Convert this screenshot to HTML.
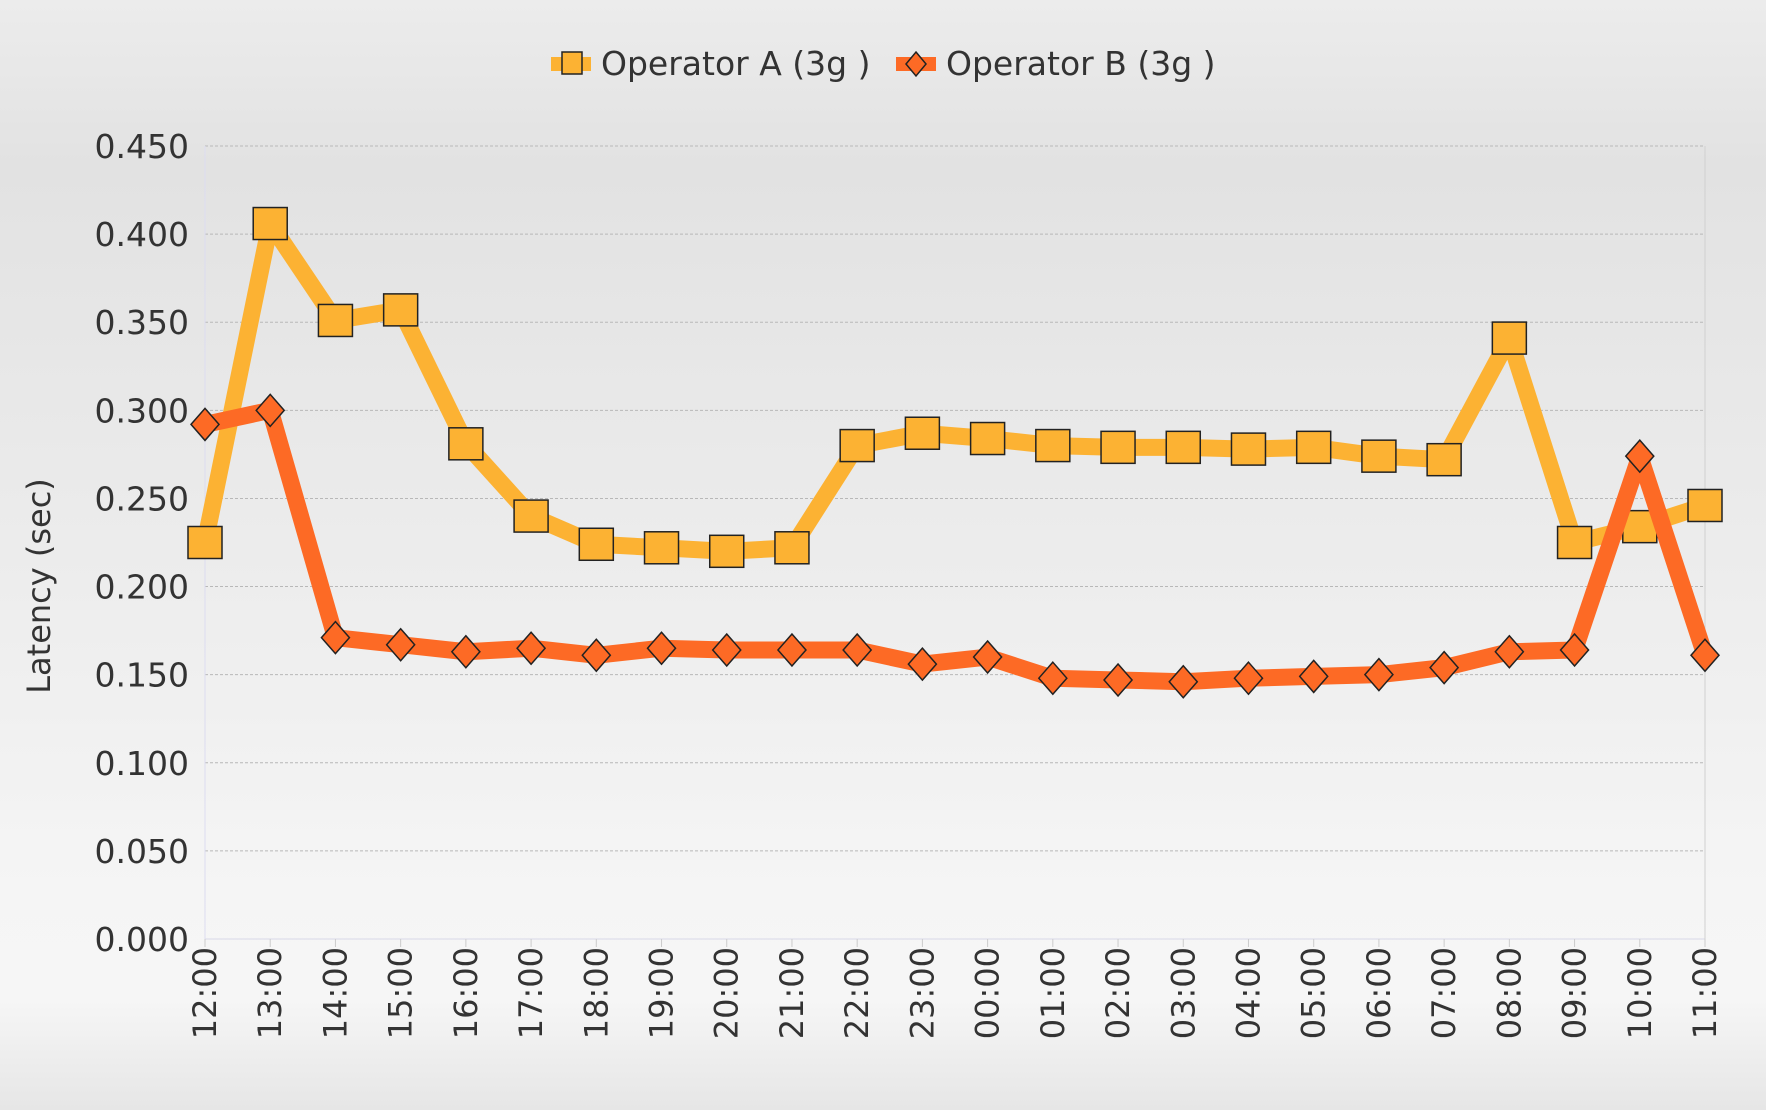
<!DOCTYPE html>
<html><head><meta charset="utf-8"><style>
html,body{margin:0;padding:0;width:1766px;height:1110px;overflow:hidden}
body{background:linear-gradient(#ececec 0%,#e2e2e2 15%,#f5f5f5 80%,#f6f6f6 90%,#e6e6e6 100%);font-family:"DejaVu Sans","Liberation Sans",sans-serif}
</style></head><body>
<svg id="chart" width="1766" height="1110" xmlns="http://www.w3.org/2000/svg" style="position:absolute;left:0;top:0"></svg>
<script>
const categories=["12:00","13:00","14:00","15:00","16:00","17:00","18:00","19:00","20:00","21:00","22:00","23:00","00:00","01:00","02:00","03:00","04:00","05:00","06:00","07:00","08:00","09:00","10:00","11:00"];
const seriesA=[0.225,0.406,0.351,0.357,0.281,0.240,0.224,0.222,0.220,0.222,0.280,0.287,0.284,0.280,0.279,0.279,0.278,0.279,0.274,0.272,0.341,0.225,0.234,0.246];
const seriesB=[0.292,0.300,0.171,0.167,0.163,0.165,0.161,0.165,0.164,0.164,0.164,0.156,0.160,0.148,0.147,0.146,0.148,0.149,0.150,0.154,0.163,0.164,0.274,0.161];
const yTicks=[0,0.05,0.1,0.15,0.2,0.25,0.3,0.35,0.4,0.45];
const X0=205,X1=1705,Y0=939,Y1=146,YMAX=0.45;
const svg=document.getElementById('chart');const NS='http://www.w3.org/2000/svg';
function xs(i){return X0+(X1-X0)*i/(categories.length-1);}
function ys(v){return Y0-(Y0-Y1)*v/YMAX;}
function mk(t,a,p){const e=document.createElementNS(NS,t);for(const k in a)e.setAttribute(k,a[k]);(p||svg).appendChild(e);return e;}
yTicks.forEach(v=>{
 const l=mk('line',{x1:X0,x2:X1,y1:ys(v),y2:ys(v),stroke:v===0?'#d8d8e8':'#b8b8b8','stroke-width':1,'stroke-dasharray':v===0?'':'3,2'});
 
 
 const t=mk('text',{x:189,y:ys(v)+12,'text-anchor':'end','font-size':33,fill:'#333'});t.textContent=v.toFixed(3);
 
 
});
mk('line',{x1:X0,x2:X0,y1:Y1,y2:Y0,stroke:'#dcdcf0','stroke-width':1});
mk('line',{x1:X1,x2:X1,y1:Y1,y2:Y0,stroke:'#d0d0d0','stroke-width':1});
categories.forEach((c,i)=>{
 mk('line',{x1:xs(i),x2:xs(i),y1:Y0,y2:Y0+8,stroke:'#ccc'});
 const t=mk('text',{x:0,y:0,transform:`translate(${xs(i)+11},${Y0+8}) rotate(-90)`,'text-anchor':'end','font-size':32,fill:'#333'});t.textContent=c;
 
 
});
const yt=mk('text',{transform:'translate(50,586) rotate(-90)','text-anchor':'middle','font-size':32,fill:'#333'});yt.textContent='Latency (sec)';


function series(data,color,shape,name){
 const g=mk('g',{});
 
 
 mk('polyline',{points:data.map((v,i)=>xs(i)+','+ys(v)).join(' '),fill:'none',stroke:color,'stroke-width':17,'stroke-linejoin':'round'},g);
 data.forEach((v,i)=>{
  const x=xs(i),y=ys(v);let m;
  if(shape==='sq')m=mk('rect',{x:x-17,y:y-16,width:34,height:32,fill:color,stroke:'#222','stroke-width':1.5},g);
  else m=mk('polygon',{points:`${x},${y-16} ${x+14},${y} ${x},${y+16} ${x-14},${y}`,fill:color,stroke:'#222','stroke-width':1.5},g);
  
  
 });
}
series(seriesA,'#fcb233','sq','series-operator-a');
series(seriesB,'#fd6a25','dm','series-operator-b');
const lg=mk('g',{});


mk('rect',{x:551,y:57,width:40,height:14,fill:'#fcb233'},lg);
mk('rect',{x:562,y:52,width:20,height:22,fill:'#fcb233',stroke:'#222','stroke-width':1.5},lg);
const la=mk('text',{x:601,y:75,'font-size':33,fill:'#333'},lg);la.textContent='Operator A (3g )';


mk('rect',{x:896,y:57,width:40,height:14,fill:'#fd6a25'},lg);
mk('polygon',{points:'916,52 926,64 916,76 906,64',fill:'#fd6a25',stroke:'#222','stroke-width':1.5},lg);
const lb=mk('text',{x:946,y:75,'font-size':33,fill:'#333'},lg);lb.textContent='Operator B (3g )';


</script>
</body></html>
